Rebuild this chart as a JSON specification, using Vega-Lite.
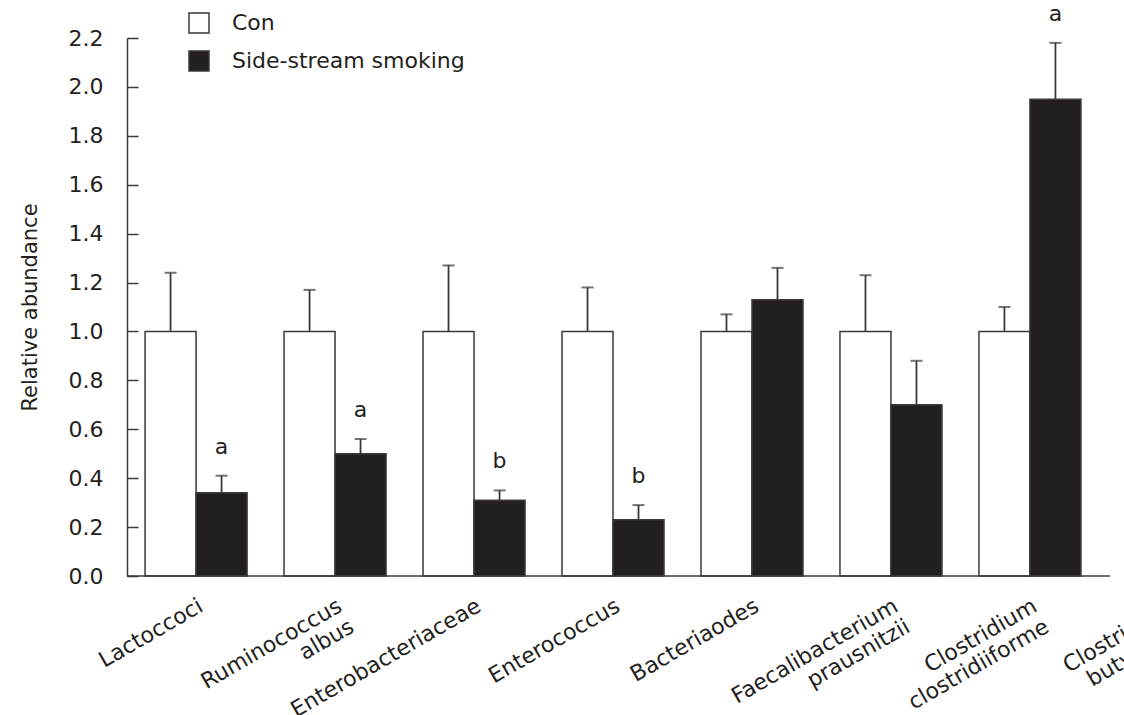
{
  "$schema": "https://vega.github.io/schema/vega-lite/v6.json",
  "autosize": {"type": "none"},
  "width": 983,
  "height": 538,
  "padding": {"left": 127, "top": 38, "right": 14, "bottom": 139},
  "background": "white",
  "config": {
    "view": {"stroke": null},
    "font": "DejaVu Sans",
    "axis": {"grid": false}
  },
  "data": {
    "values": [
      {"taxon": "Lactoccoci", "group": "Con", "value": 1.0, "upper": 1.24, "sig": ""},
      {"taxon": "Lactoccoci", "group": "Side-stream smoking", "value": 0.34, "upper": 0.41, "sig": "a"},
      {"taxon": "Ruminococcus albus", "group": "Con", "value": 1.0, "upper": 1.17, "sig": ""},
      {"taxon": "Ruminococcus albus", "group": "Side-stream smoking", "value": 0.50, "upper": 0.56, "sig": "a"},
      {"taxon": "Enterobacteriaceae", "group": "Con", "value": 1.0, "upper": 1.27, "sig": ""},
      {"taxon": "Enterobacteriaceae", "group": "Side-stream smoking", "value": 0.31, "upper": 0.35, "sig": "b"},
      {"taxon": "Enterococcus", "group": "Con", "value": 1.0, "upper": 1.18, "sig": ""},
      {"taxon": "Enterococcus", "group": "Side-stream smoking", "value": 0.23, "upper": 0.29, "sig": "b"},
      {"taxon": "Bacteriaodes", "group": "Con", "value": 1.0, "upper": 1.07, "sig": ""},
      {"taxon": "Bacteriaodes", "group": "Side-stream smoking", "value": 1.13, "upper": 1.26, "sig": ""},
      {"taxon": "Faecalibacterium prausnitzii", "group": "Con", "value": 1.0, "upper": 1.23, "sig": ""},
      {"taxon": "Faecalibacterium prausnitzii", "group": "Side-stream smoking", "value": 0.70, "upper": 0.88, "sig": ""},
      {"taxon": "Clostridium clostridiiforme", "group": "Con", "value": 1.0, "upper": 1.10, "sig": ""},
      {"taxon": "Clostridium clostridiiforme", "group": "Side-stream smoking", "value": 1.95, "upper": 2.18, "sig": "a"}
    ]
  },
  "layer": [
    {
      "mark": {"type": "bar", "stroke": "#3a3a3a", "strokeWidth": 1.5},
      "encoding": {
        "x": {
          "field": "taxon",
          "type": "nominal",
          "scale": {
            "domain": ["Lactoccoci", "Ruminococcus albus", "Enterobacteriaceae", "Enterococcus", "Bacteriaodes", "Faecalibacterium prausnitzii", "Clostridium clostridiiforme", "Clostridium butyricum"],
            "range": [0, 1111],
            "paddingInner": 0.266,
            "paddingOuter": 0.13
          },
          "axis": {
            "title": null,
            "ticks": false,
            "domain": false,
            "labelAngle": -30,
            "labelAlign": "right",
            "labelBaseline": "top",
            "labelFontSize": 22,
            "labelLineHeight": 24,
            "labelPadding": 19,
            "labelDx": 13,
            "labelDy": 4,
            "labelColor": "#231f20",
            "labelOverlap": false,
            "labelLimit": 0,
            "labelExpr": "split(datum.label, ' ')"
          }
        },
        "xOffset": {
          "field": "group",
          "type": "nominal",
          "scale": {"domain": ["Con", "Side-stream smoking"], "paddingInner": 0, "paddingOuter": 0}
        },
        "y": {
          "field": "value",
          "type": "quantitative",
          "scale": {"domain": [0, 2.2], "nice": false},
          "axis": {
            "values": [0, 0.2, 0.4, 0.6, 0.8, 1.0, 1.2, 1.4, 1.6, 1.8, 2.0, 2.2],
            "format": ".1f",
            "tickSize": -11,
            "tickWidth": 1.5,
            "tickColor": "#3a3a3a",
            "domainColor": "#3a3a3a",
            "domainWidth": 1.5,
            "labelFontSize": 22,
            "labelPadding": 35,
            "labelColor": "#231f20",
            "title": "Relative abundance",
            "titleFontSize": 21,
            "titleFontWeight": "normal",
            "titleColor": "#231f20",
            "titlePadding": 28
          }
        },
        "fill": {
          "field": "group",
          "type": "nominal",
          "scale": {"domain": ["Con", "Side-stream smoking"], "range": ["#ffffff", "#231f20"]},
          "legend": {
            "orient": "none",
            "legendX": 61,
            "legendY": -26,
            "title": null,
            "symbolType": "square",
            "symbolSize": 400,
            "symbolStrokeColor": "#3a3a3a",
            "symbolStrokeWidth": 1.5,
            "labelFontSize": 22,
            "labelColor": "#231f20",
            "labelOffset": 22,
            "labelLimit": 0,
            "rowPadding": 12
          }
        }
      }
    },
    {
      "mark": {"type": "rule", "color": "#3a3a3a", "strokeWidth": 1.8},
      "encoding": {
        "x": {"field": "taxon", "type": "nominal"},
        "xOffset": {"field": "group", "type": "nominal"},
        "y": {"field": "value", "type": "quantitative"},
        "y2": {"field": "upper"}
      }
    },
    {
      "mark": {"type": "tick", "color": "#3a3a3a", "thickness": 2, "size": 12},
      "encoding": {
        "x": {"field": "taxon", "type": "nominal"},
        "xOffset": {"field": "group", "type": "nominal"},
        "y": {"field": "upper", "type": "quantitative"}
      }
    },
    {
      "mark": {"type": "text", "fontSize": 22, "baseline": "alphabetic", "dy": -22, "color": "#231f20"},
      "encoding": {
        "x": {"field": "taxon", "type": "nominal"},
        "xOffset": {"field": "group", "type": "nominal"},
        "y": {"field": "upper", "type": "quantitative"},
        "text": {"field": "sig"}
      }
    },
    {
      "data": {"values": [{"baseline": 0}]},
      "mark": {"type": "rule", "color": "#3a3a3a", "strokeWidth": 1.5},
      "encoding": {
        "y": {"field": "baseline", "type": "quantitative"}
      }
    }
  ]
}
